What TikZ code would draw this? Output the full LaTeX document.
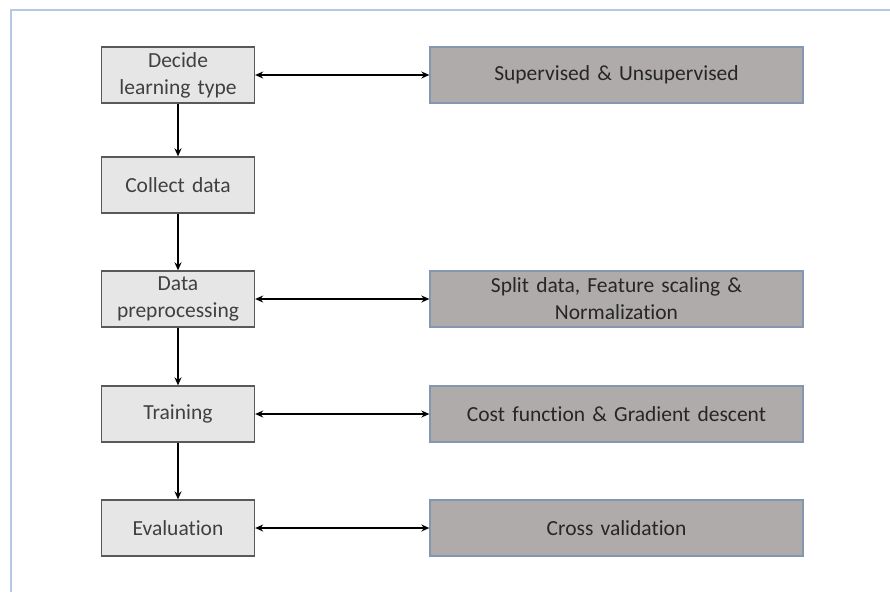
\documentclass[tikz,border=0pt]{standalone}
\usepackage{fontspec}
\setmainfont[Ligatures={NoCommon}]{Carlito}
\usetikzlibrary{arrows.meta}
\definecolor{framecol}{HTML}{B4C7E7}
\definecolor{stepfill}{HTML}{E7E6E6}
\definecolor{stepline}{HTML}{595959}
\definecolor{infofill}{HTML}{AFABAB}
\definecolor{infoline}{HTML}{8497B0}
\tikzset{
  stepbox/.style={draw=stepline, fill=stepfill, line width=1.3pt,
    minimum width=153pt, minimum height=56pt, inner sep=0pt,
    align=center, text width=150pt, font=\fontsize{21.5}{27}\selectfont, text=black!75},
  infobox/.style={draw=infoline, fill=infofill, line width=1.3pt,
    minimum width=373pt, minimum height=56pt, inner sep=0pt,
    align=center, text width=360pt, font=\fontsize{21.5}{27}\selectfont, text=black!85},
  flow/.style={line width=1.8pt, -{Stealth[length=8pt,width=7pt]}},
  link/.style={line width=1.8pt, {Stealth[length=8pt,width=7pt]}-{Stealth[length=8pt,width=7pt]}}
}
\begin{document}
\begin{tikzpicture}[x=1pt,y=-1pt]
\useasboundingbox (0,0) rectangle (890,592);
% frame edges
\draw[framecol, line width=1.5pt] (11,592) -- (11,10) -- (890,10);

% process steps
\node[stepbox] (learn) at (178,75) {Decide\\learning type};
\node[stepbox] (collect) at (178,185) {Collect data};
\node[stepbox] (prep) at (178,299) {Data\\preprocessing};
\node[stepbox] (train) at (178,414) {Training};
\node[stepbox] (eval) at (178,528) {Evaluation};

% details
\node[infobox] (sup) at (616.5,75) {Supervised \& Unsupervised};
\node[infobox] (split) at (616.5,299) {Split data, Feature scaling \&\\Normalization};
\node[infobox] (cost) at (616.5,414) {Cost function \& Gradient descent};
\node[infobox] (cross) at (616.5,528) {Cross validation};

% flow between steps
\draw[flow] (learn) -- (collect);
\draw[flow] (collect) -- (prep);
\draw[flow] (prep) -- (train);
\draw[flow] (train) -- (eval);

% links to details
\draw[link] (learn) -- (sup);
\draw[link] (prep) -- (split);
\draw[link] (train) -- (cost);
\draw[link] (eval) -- (cross);
\end{tikzpicture}
\end{document}
